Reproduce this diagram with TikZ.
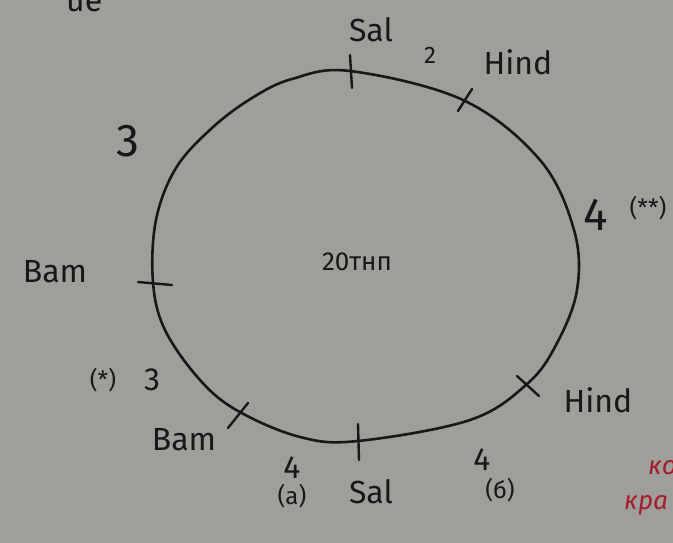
\documentclass[tikz,border=0pt]{standalone}
\usepackage{fontspec}
\setmainfont{Fira Sans}
\usetikzlibrary{positioning}

\definecolor{paper}{RGB}{158,158,155}
\definecolor{ink}{RGB}{24,24,24}
\definecolor{redink}{RGB}{165,28,42}

\begin{document}
\begin{tikzpicture}[x=1pt, y=-1pt,
  lbl/.style={text=ink, inner sep=0pt, font=\fontsize{32}{34}\selectfont},
  big/.style={lbl, font=\fontsize{46}{48}\selectfont},
  small/.style={lbl, font=\fontsize{24}{26}\selectfont},
  note/.style={text=redink, inner sep=0pt, anchor=west, font=\fontsize{26}{28}\selectfont\itshape},
  ring/.style={draw=ink, line width=2.6pt},
  tickmark/.style={draw=ink, line width=2.4pt, line cap=round}]
\clip (0,0) rectangle (673,543);
\fill[paper] (0,0) rectangle (673,543);
% the cycle
\draw[ring] plot[smooth cycle, tension=0.6] coordinates {(350,71) (463,100) (540,160) (574,230) (577,290) (556,345) (527,384) (470,420) (358,441) (300,437) (238,411) (200,380) (165,330) (153,282) (156,220) (176,168) (212,128) (252,98) (292,79)};
% ticks on the cycle
\coordinate (t1a) at (350,55);  \coordinate (t1b) at (352,88);
\coordinate (t2a) at (458,111); \coordinate (t2b) at (472,89);
\coordinate (t3a) at (517,376); \coordinate (t3b) at (539,396);
\coordinate (t4a) at (358,424); \coordinate (t4b) at (359,460);
\coordinate (t5a) at (228,428); \coordinate (t5b) at (248,403);
\coordinate (t6a) at (138,282); \coordinate (t6b) at (172,285);
\foreach \k in {1,...,6} \draw[tickmark] (t\k a) -- (t\k b);
% labels
\node[lbl] (saltop) at (371,30) {Sal};
\node[small] (two) at (430,55) {2};
\node[lbl] (hindtop) at (518,62) {Hind};
\node[big] (threetop) at (128,141) {3};
\node[big] (fourright) at (596,215) {4};
\node[small] (starstar) at (648,208) {(**)};
\node[lbl] (bamleft) at (55,272) {Bam};
\node[small] (star) at (103,380) {(*)};
\node[lbl] (threeleft) at (152,380) {3};
\node[lbl] (bambot) at (184,440) {Bam};
\node[lbl] (hindright) at (598,400) {Hind};
\node[lbl] (fourleft) at (292,468) {4};
\node[small] (casea) at (292,496) {(а)};
\node[lbl] (salbot) at (371,492) {Sal};
\node[lbl] (fourbot) at (482,460) {4};
\node[small] (caseb) at (500,490) {(б)};
\node[lbl, font=\fontsize{26}{28}\selectfont] (centre) at (357,262) {20тнп};
% cut off at the edges
\node[lbl, anchor=base west] (topword) at (66,12) {ue};
\node[note] (redone) at (648,468) {ко};
\node[note] (redtwo) at (624,505) {кра};
\end{tikzpicture}
\end{document}
